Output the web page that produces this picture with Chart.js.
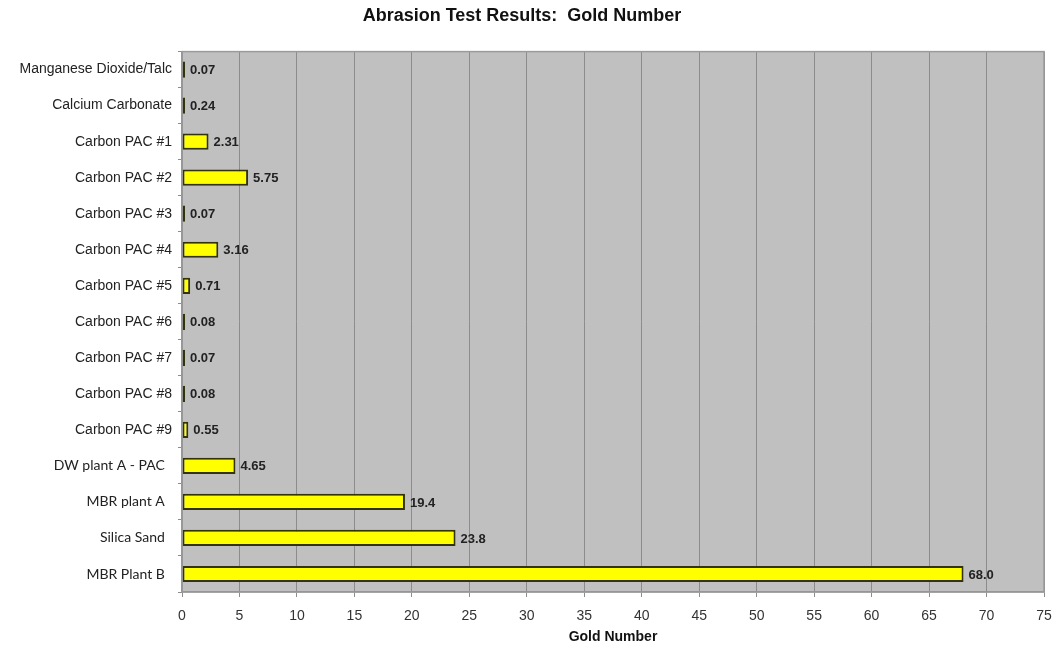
<!DOCTYPE html>
<html>
<head>
<meta charset="utf-8">
<script src="https://cdn.jsdelivr.net/npm/chart.js@4/dist/chart.umd.min.js"></script>
<style>
    body { margin: 0; background: #fff; }
    #wrap { width: 1060px; height: 650px; }
</style>
</head>
<body>
<div id="wrap"><canvas id="goldChart"></canvas></div>
<script>
const materials = [
    "Manganese Dioxide/Talc",
    "Calcium Carbonate",
    "Carbon PAC #1",
    "Carbon PAC #2",
    "Carbon PAC #3",
    "Carbon PAC #4",
    "Carbon PAC #5",
    "Carbon PAC #6",
    "Carbon PAC #7",
    "Carbon PAC #8",
    "Carbon PAC #9",
    "DW plant A - PAC  ",
    "MBR plant A  ",
    "Silica Sand  ",
    "MBR Plant B  "
];

const goldNumbers = [0.07, 0.24, 2.31, 5.75, 0.07, 3.16, 0.71, 0.08, 0.07, 0.08, 0.55, 4.65, 19.4, 23.8, 68.0];

const xTicks = [0, 5, 10, 15, 20, 25, 30, 35, 40, 45, 50, 55, 60, 65, 70, 75];

// the last four rows were typed in another font in the original sheet
const firstPlantRow = 11;

function formatValue(v) {
    return v >= 10 ? v.toFixed(1) : v.toFixed(2);
}

// grey plot background, frame and value labels at bar ends
const plotBackground = {
    id: "plotBackground",
    beforeDraw(chart) {
        const { ctx, chartArea } = chart;
        ctx.save();
        ctx.fillStyle = "#c0c0c0";
        ctx.fillRect(chartArea.left, chartArea.top, chartArea.right - chartArea.left, chartArea.bottom - chartArea.top);
        ctx.restore();
    },
    afterDraw(chart) {
        const { ctx, chartArea } = chart;
        ctx.save();
        ctx.strokeStyle = "#9a9a9a";
        ctx.lineWidth = 1.5;
        ctx.strokeRect(chartArea.left, chartArea.top, chartArea.right - chartArea.left, chartArea.bottom - chartArea.top);
        ctx.restore();
    },
    afterDatasetsDraw(chart) {
        const { ctx } = chart;
        const meta = chart.getDatasetMeta(0);
        ctx.save();
        ctx.font = "bold 13px 'Liberation Sans', Arial, sans-serif";
        ctx.fillStyle = "#222";
        ctx.textBaseline = "middle";
        meta.data.forEach((bar, i) => {
            ctx.fillText(formatValue(goldNumbers[i]), bar.x + 5, bar.y + 1);
        });
        ctx.restore();
    }
};

const ctx = document.getElementById("goldChart").getContext("2d");

new Chart(ctx, {
    type: "bar",
    data: {
        labels: materials,
        datasets: [{
            data: goldNumbers,
            backgroundColor: "#ffff00",
            borderColor: "#33330a",
            borderWidth: 2,
            borderSkipped: false,
            minBarLength: 3,
            barPercentage: 0.45,
            categoryPercentage: 1.0
        }]
    },
    plugins: [plotBackground],
    options: {
        indexAxis: "y",
        responsive: true,
        maintainAspectRatio: false,
        animation: false,
        layout: { padding: { left: 0, right: 16, top: 0, bottom: 0 } },
        plugins: {
            legend: { display: false },
            tooltip: { enabled: false },
            title: {
                display: true,
                text: "Abrasion Test Results:  Gold Number",
                color: "#111",
                font: { family: "'Liberation Sans', Arial, sans-serif", size: 18, weight: "bold" },
                padding: { top: 5, bottom: 25 }
            }
        },
        scales: {
            x: {
                min: 0,
                max: 75,
                afterBuildTicks: (scale) => {
                    scale.ticks = xTicks.map(v => ({ value: v }));
                },
                afterFit: (scale) => {
                    scale.height = 58;
                    scale.paddingRight = 16;
                },
                grid: {
                    color: "#8c8c8c",
                    lineWidth: 1,
                    tickLength: 5,
                    tickColor: "#8c8c8c"
                },
                border: { color: "#8c8c8c", width: 1.5 },
                ticks: {
                    color: "#333",
                    padding: 11,
                    maxRotation: 0,
                    font: { family: "'Liberation Sans', Arial, sans-serif", size: 14 }
                },
                title: {
                    display: true,
                    text: "Gold Number",
                    color: "#111",
                    padding: { top: 0, bottom: 4 },
                    font: { family: "'Liberation Sans', Arial, sans-serif", size: 14, weight: "bold" }
                }
            },
            y: {
                afterFit: (scale) => { scale.width = 182; },
                grid: {
                    display: true,
                    drawOnChartArea: false,
                    offset: true,
                    tickLength: 4,
                    color: "#8c8c8c"
                },
                border: { color: "#8c8c8c", width: 1.5 },
                ticks: {
                    color: "#222",
                    padding: 6,
                    font: (c) => c.index >= firstPlantRow
                        ? { family: "Lato, 'Open Sans', sans-serif", size: 14 }
                        : { family: "'Liberation Sans', Arial, sans-serif", size: 14 }
                }
            }
        }
    }
});
</script>
</body>
</html>
